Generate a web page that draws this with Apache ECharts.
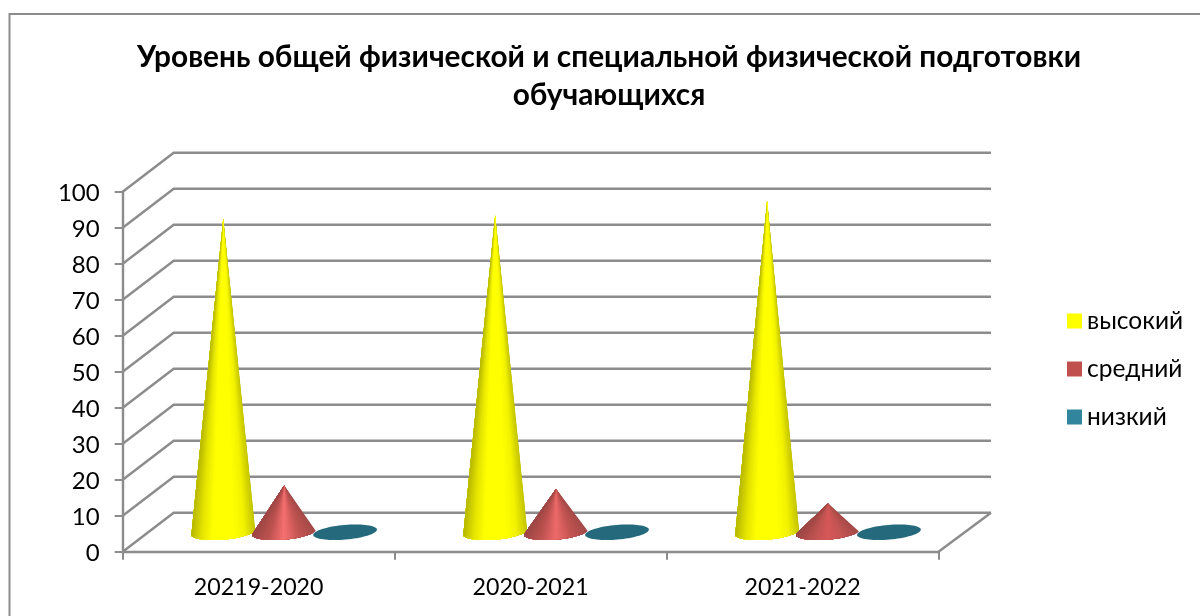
<!DOCTYPE html>
<html>
<head>
<meta charset="utf-8">
<style>
  html, body { margin: 0; padding: 0; background: #fff; }
  #chart { width: 1200px; height: 616px; }
</style>
<script src="https://cdn.jsdelivr.net/npm/echarts@6/dist/echarts.min.js"></script>
</head>
<body>
<div id="chart"></div>
<script>
const titleLines = ['Уровень общей физической и специальной физической подготовки', 'обучающихся']
const categories = ['20219-2020', '2020-2021', '2021-2022']
const seriesNames = ['высокий', 'средний', 'низкий']
const highValues = [87, 88, 92]
const midValues = [13, 12, 8]
const lowValues = [0, 0, 0]
const yTicks = [0, 10, 20, 30, 40, 50, 60, 70, 80, 90, 100]

const FONT = 'Lato, "Open Sans", sans-serif'
const GRID_COLOR = '#8c8c8c'
// сдвиг задней стенки относительно передней оси
const DEPTH_X = 51
const DEPTH_X_RIGHT = 52.5
const DEPTH_Y = -38.9

function baseEllipse(cx, cy) {
  const rx = 32, ry = 7.3, rot = -5 * Math.PI / 180
  let pts = []
  for (let i = 0; i < 72; i++) {
    let t = i / 72 * Math.PI * 2
    let px = rx * Math.cos(t), py = ry * Math.sin(t)
    pts.push([cx + px * Math.cos(rot) - py * Math.sin(rot), cy + px * Math.sin(rot) + py * Math.cos(rot)])
  }
  return pts
}

// конус рисуем наложением клиньев: каждый следующий перекрывает остаток дуги, швов нет
function coneShapes(cx, cy, ax, ay, ramp) {
  let ell = baseEllipse(cx, cy)
  if (cy - ay < 8) {
    return [{ type: 'polygon', shape: { points: ell }, style: { fill: ramp[0] } }]
  }
  let iL = 0, iR = 0, minA = Infinity, maxA = -Infinity
  ell.forEach((p, i) => {
    let a = Math.atan2(p[0] - ax, p[1] - ay)
    if (a < minA) { minA = a; iL = i }
    if (a > maxA) { maxA = a; iR = i }
  })
  // от правой касательной по нижней дуге к левой
  let arc = []
  let i = iR
  while (true) {
    arc.push(ell[i])
    if (i === iL) break
    i = (i + 1) % ell.length
  }
  let xL = ell[iL][0], xR = ell[iR][0]
  let shapes = []
  for (let k = 0; k < arc.length - 1; k++) {
    let mid = (arc[k][0] + arc[k + 1][0]) / 2
    let c = echarts.color.lerp((mid - xL) / (xR - xL), ramp)
    shapes.push({
      type: 'polygon',
      shape: { points: [[ax, ay]].concat(arc.slice(k)) },
      style: { fill: c }
    })
  }
  return shapes
}

function coneSeries(name, values, color, slot, rampFor) {
  return {
    name: name,
    type: 'custom',
    coordinateSystem: 'cartesian2d',
    itemStyle: { color: color },
    z: 5,
    data: values.map((v, i) => [i, v]),
    encode: { x: 0, y: 1 },
    renderItem(params, api) {
      let cat = api.value(0)
      let val = api.value(1)
      let band = api.size([1, 0])[0]
      let top = api.coord([cat, val])
      let bottom = api.coord([cat, 0])
      let dx = DEPTH_X / 2 + slot * band * 0.224
      return {
        type: 'group',
        children: coneShapes(bottom[0] + dx, bottom[1] + DEPTH_Y / 2, top[0] + dx, top[1] + DEPTH_Y / 2, rampFor(params.dataIndex))
      }
    }
  }
}

const yellowRamp = () => ['#b8b800', '#e4e400', '#ffff00', '#ffff00', '#ffff00', '#f2f200', '#c4c400']
const midGlow = ['#f67070', '#ee6a6a', '#d65858']
const redRamp = (i) => ['#9e4745', '#bd5250', midGlow[i], '#c25452', '#a44a48']
const tealRamp = () => ['#246a7c']

// сетка: задняя стенка и боковая стенка
const wallSeries = {
  type: 'custom',
  coordinateSystem: 'cartesian2d',
  silent: true,
  z: 1,
  data: yTicks.map(t => [0, t]),
  encode: { y: 1 },
  renderItem(params, api) {
    let v = api.value(1)
    let left = api.coord([0, v])
    let band = api.size([1, 0])[0]
    let x0 = left[0] - band / 2
    let x1 = x0 + band * categories.length
    let lineStyle = { stroke: GRID_COLOR, lineWidth: 2.4, fill: null }
    let children = [
      {
        type: 'polyline',
        shape: { points: [[x0, left[1]], [x0 + DEPTH_X, left[1] + DEPTH_Y], [x1 + DEPTH_X_RIGHT, left[1] + DEPTH_Y]] },
        style: lineStyle
      }
    ]
    if (v === 0) {
      children.push({
        type: 'line',
        shape: { x1: x1, y1: left[1], x2: x1 + DEPTH_X_RIGHT, y2: left[1] + DEPTH_Y },
        style: lineStyle
      })
    }
    return { type: 'group', children: children }
  }
}

let chart = echarts.init(document.getElementById('chart'), null, { renderer: 'canvas' })
chart.setOption({
  animation: false,
  backgroundColor: '#fff',
  textStyle: { fontFamily: FONT },
  title: {
    text: titleLines.join('\n'),
    left: 604,
    top: 33,
    textAlign: 'center',
    textStyle: { fontFamily: FONT, fontSize: 29.8, fontWeight: 'bold', color: '#000', lineHeight: 38 }
  },
  legend: {
    data: seriesNames,
    orient: 'vertical',
    left: 1062,
    top: 300,
    itemWidth: 15,
    itemHeight: 15,
    itemGap: 16,
    icon: 'rect',
    textStyle: { fontFamily: FONT, fontSize: 24.5, color: '#000', lineHeight: 32 }
  },
  grid: { left: 122.7, top: 191.7, width: 815.8, height: 360 },
  xAxis: {
    type: 'category',
    data: categories,
    axisLine: { lineStyle: { color: GRID_COLOR, width: 2.4 } },
    axisTick: { show: true, length: 8, lineStyle: { color: GRID_COLOR, width: 2 } },
    axisLabel: { fontFamily: FONT, fontSize: 23.2, color: '#000', margin: 24 },
    splitLine: { show: false }
  },
  yAxis: {
    type: 'value',
    min: 0,
    max: 100,
    interval: 10,
    axisLine: { show: true, lineStyle: { color: GRID_COLOR, width: 2.4 } },
    axisTick: { show: true, length: 8, lineStyle: { color: GRID_COLOR, width: 2 } },
    axisLabel: { fontFamily: FONT, fontSize: 24, color: '#000', margin: 23, verticalAlign: 'top', lineHeight: 4 },
    splitLine: { show: false }
  },
  graphic: [{
    type: 'rect',
    silent: true,
    shape: { x: 9.5, y: 14, width: 1300, height: 800 },
    style: { fill: null, stroke: '#8c8c8c', lineWidth: 2 }
  }],
  series: [
    wallSeries,
    coneSeries(seriesNames[0], highValues, '#ffff00', -1, yellowRamp),
    coneSeries(seriesNames[1], midValues, '#c0504d', 0, redRamp),
    coneSeries(seriesNames[2], lowValues, '#31859c', 1, tealRamp)
  ]
})
</script>
</body>
</html>
